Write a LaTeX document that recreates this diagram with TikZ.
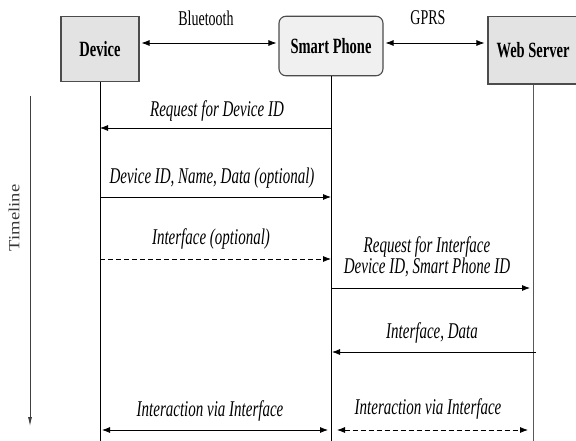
\documentclass[tikz,border=0pt]{standalone}
\usepackage{graphicx}
\usepackage{fontspec}
\setmainfont{Liberation Serif}
\usetikzlibrary{positioning, calc, arrows.meta}
\newcommand{\tallt}[1]{\scalebox{1}[1.5]{#1}}
\tikzset{
  entity/.style={draw=gray!60!black, fill=gray!22, line width=1.1pt, inner sep=0pt,
    font=\fontsize{14.5}{17}\selectfont\bfseries},
  msg/.style={font=\fontsize{15}{13.5}\selectfont\itshape},
  link/.style={font=\fontsize{14}{17}\selectfont},
  dashline/.style={dash pattern=on 5pt off 3pt}
}
\begin{document}
\begin{tikzpicture}[x=1pt, y=-1pt, >={Latex[length=8pt,width=6pt]}, line width=0.8pt]
\useasboundingbox (0,0) rectangle (576,441);
\clip (0,0) rectangle (576,441);
\fill[white] (0,0) rectangle (576,441);
% the three parties
\node[entity, minimum width=78pt, minimum height=64.5pt] (device) at (100,49) {\tallt{Device}};
\node[entity, minimum width=104pt, minimum height=59.5pt, rounded corners=7pt, fill=gray!12] (phone) at (331,46) {\tallt{Smart Phone}};
\node[entity, minimum width=90pt, minimum height=67.5pt] (server) at (533,50.25) {\tallt{Web Server}};
% life lines
\coordinate (bottom) at (0,441);
\draw (device.south)--(device.south |- bottom);
\draw (phone.south)--(phone.south |- bottom);
\draw[gray!70!black] (server.south)--(server.south |- bottom);
% links
\coordinate (wire) at (0,43);
\draw[<->, shorten <=2pt, shorten >=2pt] (device.east |- wire)--(phone.west |- wire);
\draw[<->, shorten <=2pt, shorten >=3pt] (phone.east |- wire)--(server.west |- wire);
\node[link] (bt) at (206,18) {\tallt{Bluetooth}};
\node[link] (gprs) at (428,18) {\tallt{GPRS}};
% timeline
\coordinate (tstart) at (30,96);
\coordinate (tend) at (30,426);
\draw[-{Latex[length=9pt,width=4pt]}, gray!50!black] (tstart)--(tend);
\node[rotate=90, gray!45!black, font=\fontsize{15.5}{17}\selectfont] (tl) at (14,218) {\scalebox{1.2}[1]{Timeline}};
% messages
\coordinate (m1) at (0,128);
\coordinate (m2) at (0,197);
\coordinate (m3) at (0,259);
\coordinate (m4) at (0,288);
\coordinate (m5) at (0,352);
\coordinate (m6) at (0,430);
\draw[->] (phone |- m1)--(device |- m1);
\node[msg] (l1) at (217,111) {\tallt{Request for Device ID}};
\draw[->] (device |- m2)--(phone |- m2);
\node[msg] (l2) at (212,178) {\tallt{Device ID, Name, Data (optional)}};
\draw[->, dashline] (device |- m3)--(phone |- m3);
\node[msg] (l3) at (211,239) {\tallt{Interface (optional)}};
\draw[->, shorten >=3pt] (phone |- m4)--(server |- m4);
\node[msg] (l4) at (427,258) {\tallt{\begin{tabular}{@{}c@{}}Request for Interface\\Device ID, Smart Phone ID\end{tabular}}};
\draw[->, shorten >=1pt] ([xshift=3pt]server |- m5)--(phone |- m5);
\node[msg] (l6) at (432,333) {\tallt{Interface, Data}};
\draw[<->, shorten <=2pt, shorten >=3pt] (device |- m6)--(phone |- m6);
\node[msg] (l7) at (210,411) {\tallt{Interaction via Interface}};
\draw[<->, dashline, shorten <=6pt, shorten >=5pt] (phone |- m6)--(server |- m6);
\node[msg] (l8) at (428,409) {\tallt{Interaction via Interface}};
\end{tikzpicture}
\end{document}
